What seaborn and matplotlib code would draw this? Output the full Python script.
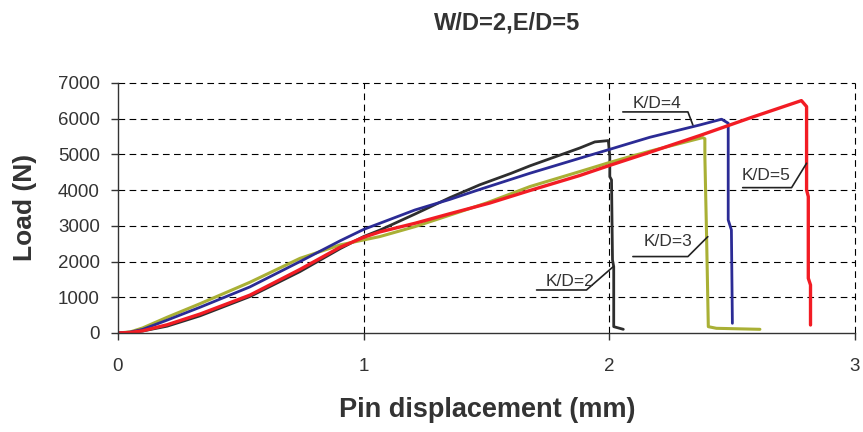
import numpy as np
import pandas as pd
import matplotlib
matplotlib.use("Agg")
import matplotlib.pyplot as plt
import seaborn as sns

# K/D=2 (black)
x_kd2 = [0, 0.05, 0.1, 0.2, 0.334, 0.537, 0.741, 0.904, 1.0, 1.066, 1.209, 1.351, 1.473, 1.6, 1.677, 1.88,
         1.941, 1.996, 2.002, 2.002, 2.009, 2.013, 2.018, 2.018, 2.057]
y_kd2 = [0, 15, 55, 190, 480, 1020, 1720, 2360, 2700, 2880, 3330, 3790, 4150, 4470, 4680, 5180,
         5350, 5387, 4940, 4378, 4286, 2045, 1857, 177, 103]

# K/D=3 (olive)
x_kd3 = [0, 0.05, 0.1, 0.2, 0.334, 0.537, 0.741, 0.904, 1.0, 1.066, 1.209, 1.351, 1.5, 1.677, 1.88, 1.994,
         2.084, 2.165, 2.38, 2.389, 2.389, 2.396, 2.403, 2.436, 2.613]
y_kd3 = [0, 30, 140, 440, 820, 1420, 2090, 2465, 2605, 2700, 2978, 3300, 3640, 4100, 4520, 4760,
         4938, 5090, 5471, 5440, 4938, 2697, 177, 131, 103]

# K/D=4 (blue)
x_kd4 = [0, 0.05, 0.1, 0.2, 0.334, 0.537, 0.741, 0.904, 1.0, 1.066, 1.209, 1.351, 1.473, 1.677, 1.88, 1.994,
         2.084, 2.165, 2.369, 2.457, 2.484, 2.484, 2.497, 2.501]
y_kd4 = [0, 25, 100, 360, 720, 1290, 2000, 2580, 2900, 3072, 3445, 3740, 4020, 4473, 4893, 5126,
         5313, 5480, 5826, 5986, 5874, 3165, 2885, 271]

# K/D=5 (red)
x_kd5 = [0, 0.05, 0.1, 0.2, 0.334, 0.537, 0.741, 0.904, 1.0, 1.066, 1.209, 1.351, 1.514, 1.677, 1.88, 1.996,
         2.165, 2.369, 2.572, 2.782, 2.803, 2.803, 2.81, 2.81, 2.819, 2.819]
y_kd5 = [0, 15, 60, 230, 530, 1060, 1780, 2400, 2680, 2830, 3072, 3340, 3640, 3990, 4410, 4680,
         5060, 5530, 6020, 6507, 6339, 4006, 3819, 1532, 1345, 224]

series_names = ["K/D=2", "K/D=3", "K/D=4", "K/D=5"]
series_x = [x_kd2, x_kd3, x_kd4, x_kd5]
series_y = [y_kd2, y_kd3, y_kd4, y_kd5]
series_colors = ["#2e2e2e", "#a9b035", "#2b2b95", "#f21c24"]
series_widths = [2.0, 2.2, 2.0, 2.4]

# label text centre, underline span (x0, x1, y), leader tip on curve
label_text_pos = [(1.84, 1437), (2.238, 2557), (2.193, 6434), (2.64, 4398)]
label_underline = [(1.704, 1.907, 1204), (2.096, 2.32, 2140), (2.055, 2.32, 6190), (2.543, 2.742, 4070)]
label_tip = [(2.016, 1857), (2.401, 2697), (2.34, 5826), (2.803, 4753)]

x_ticks = [0, 1, 2, 3]
y_ticks = [0, 1000, 2000, 3000, 4000, 5000, 6000, 7000]

sns.set_style("white")
plt.rcParams['font.family'] = ['Liberation Sans', 'DejaVu Sans']
text_col = "#333333"

fig = plt.figure(figsize=(8.63, 4.32), dpi=100)
ax = fig.add_axes([0.1367, 0.2292, 0.854, 0.5787])

for name, xs, ys, col, lw in zip(series_names, series_x, series_y, series_colors, series_widths):
    df = pd.DataFrame({"x": xs, "y": ys})
    sns.lineplot(data=df, x="x", y="y", sort=False, estimator=None, color=col, lw=lw, ax=ax)

ax.set_xlim(0, 3)
ax.set_ylim(0, 7000)
ax.set_xticks(x_ticks)
ax.set_yticks(y_ticks)
ax.set_xticklabels([str(v) for v in x_ticks])
ax.set_yticklabels([str(v) for v in y_ticks])

# dashed grid, also serves as top and right border
for xv in x_ticks[1:]:
    ax.axvline(xv, color="black", lw=0.8, ls=(0, (6, 4)), clip_on=False, zorder=0)
for yv in y_ticks[1:]:
    ax.axhline(yv, color="black", lw=0.8, ls=(0, (6, 4)), clip_on=False, zorder=0)

for s in ["top", "right"]:
    ax.spines[s].set_visible(False)
for s in ["left", "bottom"]:
    ax.spines[s].set_color("#333333")
    ax.spines[s].set_linewidth(1.0)

ax.tick_params(axis="y", direction="out", length=5, width=1, color="#333333", pad=8,
               labelsize=13.5, labelcolor=text_col, left=True)
ax.tick_params(axis="x", direction="out", length=5, width=1, color="#333333", pad=13,
               labelsize=13.5, labelcolor=text_col, bottom=True)

ax.set_xlabel("")
ax.set_ylabel("")
fig.text(0.565, 0.05, "Pin displacement (mm)", ha="center", va="center",
         fontsize=19.5, fontweight="bold", color=text_col)
fig.text(0.029, 0.52, "Load (N)", ha="center", va="center", rotation=90,
         fontsize=19, fontweight="bold", color=text_col)
fig.text(0.588, 0.947, "W/D=2,E/D=5", ha="center", va="center",
         fontsize=17, fontweight="bold", color=text_col)

for name, (tx, ty), (ux0, ux1, uy), (px, py) in zip(series_names, label_text_pos, label_underline, label_tip):
    ax.text(tx, ty, name, ha="center", va="center", fontsize=12.5, color=text_col)
    ax.plot([ux0, ux1, px], [uy, uy, py], color="#222222", lw=1.2)

fig.savefig("out.png", dpi=100)
